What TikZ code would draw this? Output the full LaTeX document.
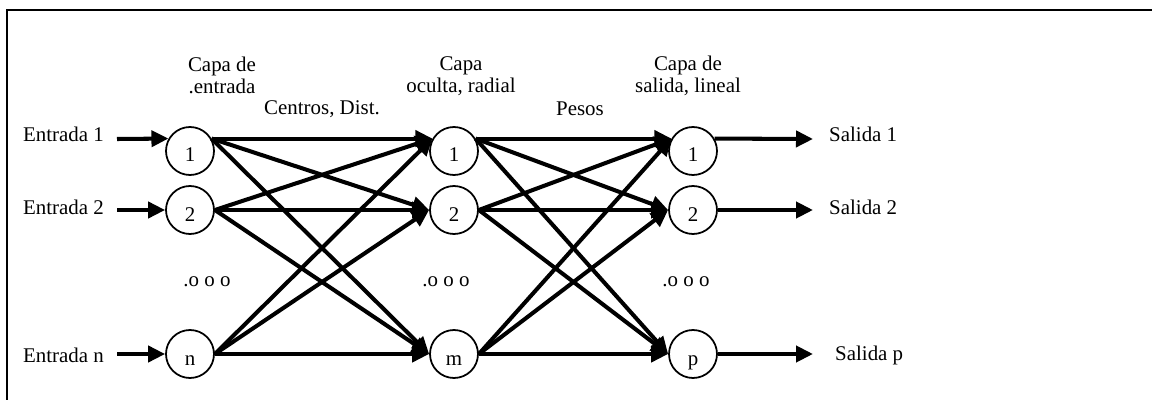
\documentclass[tikz,border=0pt]{standalone}
\usepackage{fontspec}
\setmainfont{Liberation Serif}
\usetikzlibrary{positioning}
\usetikzlibrary{arrows.meta}

\begin{document}
\begin{tikzpicture}
                % Picture style
                \tikzset{
                    neuron/.style={circle, draw, line width=1pt, minimum size=0.96cm, inner sep=0pt, text height=0.44cm, text depth=0pt},
                    conn/.style={line width=2.3pt, -{Triangle[length=0.34cm, width=0.32cm]}},
                    every node/.style={font=\fontsize{11.9pt}{12.5pt}\selectfont}
                }
                \useasboundingbox (0,0) rectangle (23.04,-8);
                \draw[line width=1.4pt] (0.14,-8) |- (23.04,-0.2);

                % Neurons
                \node[neuron] (Ea) at (3.8,-3.02) {1};
                \node[neuron] (Eb) at (3.8,-4.2) {2};
                \node[neuron] (En) at (3.8,-7.08) {n};
                \node[neuron] (Ha) at (9.08,-3.02) {1};
                \node[neuron] (Hb) at (9.08,-4.2) {2};
                \node[neuron] (Hm) at (9.08,-7.08) {m};
                \node[neuron] (Sa) at (13.86,-3.02) {1};
                \node[neuron] (Sb) at (13.86,-4.2) {2};
                \node[neuron] (Sp) at (13.86,-7.08) {p};

                % Layer titles
                \node[align=center] (tE) at (4.44,-1.5) {Capa de\\.entrada};
                \node[align=center] (tH) at (9.22,-1.52) {Capa\\oculta, radial};
                \node[align=center] (tS) at (13.76,-1.52) {Capa de\\salida, lineal};
                \node (cd) at (6.44,-2.19) {Centros, Dist.};
                \node (ps) at (11.6,-2.18) {Pesos};
                \node (dE) at (4.14,-5.64) {.o o o};
                \node (dH) at (8.92,-5.64) {.o o o};
                \node (dS) at (13.72,-5.64) {.o o o};

                % Input and output ports
                \node (ea) at (2.2,-2.68) [left] {Entrada 1};
                \node (eb) at (2.2,-4.14) [left] {Entrada 2};
                \node (en) at (2.2,-7.1) [left] {Entrada n};
                \node (sa) at (16.46,-2.68) [right] {Salida 1};
                \node (sb) at (16.46,-4.14) [right] {Salida 2};
                \node (sp) at (16.58,-7.1) [right] {Salida p};
                \coordinate (ia) at (2.34,-2.78);
                \coordinate (ib) at (2.34,-4.2);
                \coordinate (ic) at (2.34,-7.08);
                \coordinate (oa) at (16.26,-2.78);
                \coordinate (ob) at (16.26,-4.2);
                \coordinate (oc) at (16.26,-7.08);

                % Connection
                \draw[conn] (ia) -- (Ea.150);
                \draw[conn] (ib) -- (Eb.west);
                \draw[conn] (ic) -- (En.west);

                \draw[conn] (Ea.30) -- (Ha.150);
                \draw[conn] (Ea.30) -- (Hb.west);
                \draw[conn] (Ea.30) -- (Hm.west);
                \draw[conn] (Eb.east) -- (Ha.150);
                \draw[conn] (Eb.east) -- (Hb.west);
                \draw[conn] (Eb.east) -- (Hm.west);
                \draw[conn] (En.east) -- (Ha.150);
                \draw[conn] (En.east) -- (Hb.west);
                \draw[conn] (En.east) -- (Hm.west);

                \draw[conn] (Ha.30) -- (Sa.150);
                \draw[conn] (Ha.30) -- (Sb.west);
                \draw[conn] (Ha.30) -- (Sp.west);
                \draw[conn] (Hb.east) -- (Sa.150);
                \draw[conn] (Hb.east) -- (Sb.west);
                \draw[conn] (Hb.east) -- (Sp.west);
                \draw[conn] (Hm.east) -- (Sa.150);
                \draw[conn] (Hm.east) -- (Sb.west);
                \draw[conn] (Hm.east) -- (Sp.west);

                \draw[conn] (Sa.30) -- (oa);
                \draw[conn] (Sb.east) -- (ob);
                \draw[conn] (Sp.east) -- (oc);
            \end{tikzpicture}
\end{document}
